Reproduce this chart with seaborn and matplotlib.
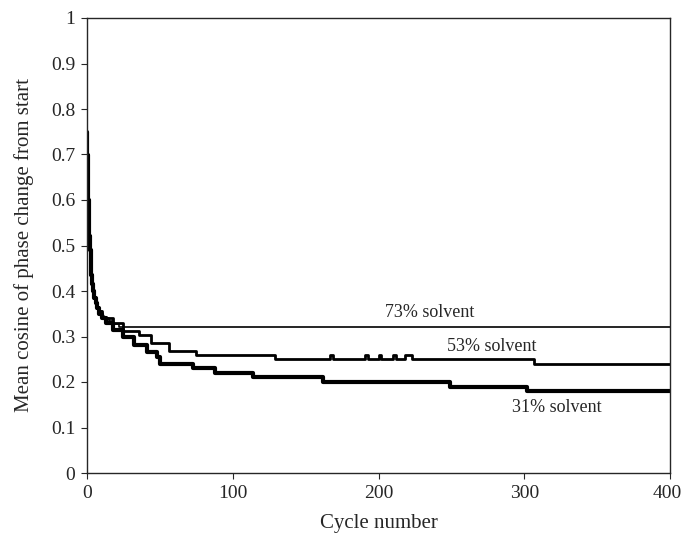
import numpy as np
import pandas as pd
import matplotlib
matplotlib.use("Agg")
import matplotlib.pyplot as plt
import matplotlib.transforms as mtransforms
import seaborn as sns

# breakpoints (cycle, mean cosine), drawn as steps
decay_cycles = [0, 0.3, 0.6, 0.9, 1.2, 1.6, 2, 2.5, 3, 3.5, 4, 5, 6, 7, 8, 10]
decay_values = [0.75, 0.70, 0.65, 0.60, 0.56, 0.52, 0.49, 0.46, 0.435, 0.415,
                0.40, 0.385, 0.373, 0.363, 0.355, 0.345]

s73_cycles = decay_cycles + [12, 15, 18, 22, 400]
s73_values = decay_values + [0.34, 0.335, 0.328, 0.32, 0.32]

s53_cycles = decay_cycles + [13, 18, 25, 36, 44, 56, 75, 129,
                             167, 169, 191, 193, 200, 202, 210, 212,
                             218, 223, 307, 400]
s53_values = decay_values[:-1] + [0.342, 0.34, 0.329, 0.313, 0.303, 0.285,
                                  0.269, 0.259, 0.25, 0.26, 0.25, 0.26,
                                  0.25, 0.26, 0.25, 0.26, 0.25, 0.26,
                                  0.25, 0.24, 0.24]

s31_cycles = decay_cycles + [13, 18, 25, 32, 41, 48, 50, 73, 88, 114,
                             162, 249, 302, 400]
s31_values = decay_values[:-2] + [0.35, 0.34, 0.329, 0.314, 0.30, 0.281,
                                  0.267, 0.255, 0.24, 0.23, 0.22, 0.21,
                                  0.20, 0.19, 0.18, 0.18]

series = [
    ("73% solvent", s73_cycles, s73_values, 1.2),
    ("53% solvent", s53_cycles, s53_values, 2.0),
    ("31% solvent", s31_cycles, s31_values, 3.0),
]

sns.set_style("ticks")
plt.rcParams["font.family"] = ["Liberation Serif", "DejaVu Serif"]

fig = plt.figure(figsize=(6.83, 5.33), dpi=100)
ax = fig.add_axes([87 / 683, 1 - 473 / 533, (670 - 87) / 683, (473 - 18) / 533])

for name, xs, ys, lw in series:
    df = pd.DataFrame({"cycle": xs, "cosine": ys})
    sns.lineplot(data=df, x="cycle", y="cosine", ax=ax, color="black",
                 linewidth=lw, drawstyle="steps-post", sort=False)

ax.set_xlim(0, 400)
ax.set_ylim(0, 1)
ax.set_xticks([0, 100, 200, 300, 400])
ax.set_yticks(np.arange(0, 1.01, 0.1))
ax.set_yticklabels(["0"] + [f"{v:.1f}" for v in np.arange(0.1, 0.95, 0.1)] + ["1"])
ax.tick_params(labelsize=14, direction="out", length=4.5, width=0.8, pad=4)
for sp in ax.spines.values():
    sp.set_visible(True)
    sp.set_linewidth(1.0)

# keep the last x label inside the figure edge
last = ax.get_xticklabels()[-1]
last.set_transform(last.get_transform() +
                   mtransforms.ScaledTranslation(-3 / 100, 0, fig.dpi_scale_trans))

ax.set_xlabel("Cycle number", fontsize=15, labelpad=9)
ax.set_ylabel("Mean cosine of phase change from start", fontsize=15, labelpad=12)

ax.text(235, 0.352, "73% solvent", ha="center", va="center", fontsize=13)
ax.text(278, 0.277, "53% solvent", ha="center", va="center", fontsize=13)
ax.text(322, 0.143, "31% solvent", ha="center", va="center", fontsize=13)

fig.savefig("out.png", dpi=100)
